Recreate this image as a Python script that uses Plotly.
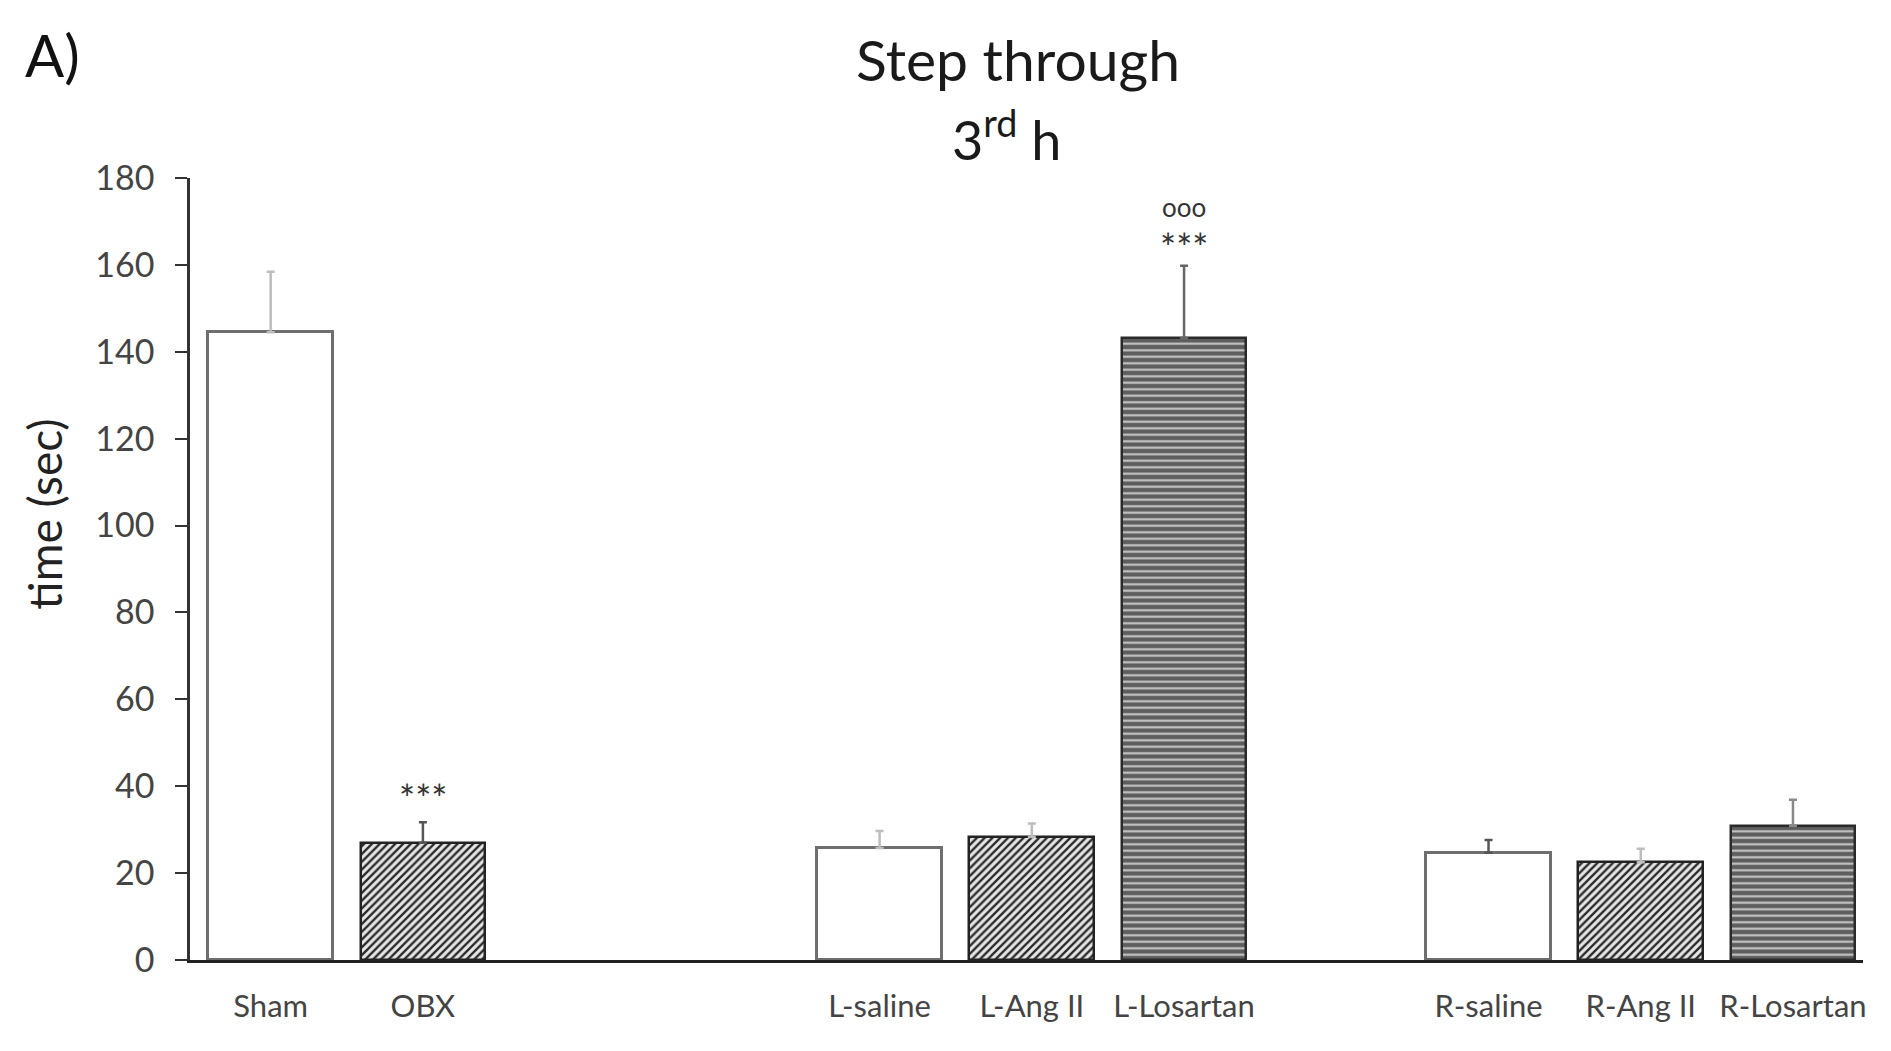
import plotly.graph_objects as go

# ---- data ----
groups = [["Sham", "OBX"],
          ["L-saline", "L-Ang II", "L-Losartan"],
          ["R-saline", "R-Ang II", "R-Losartan"]]
means = [144.5, 27.0, 25.8, 28.3, 143.2, 24.7, 22.5, 30.9]
upper = [158.4, 31.7, 29.7, 31.4, 159.8, 27.6, 25.6, 36.9]
signif_obx = "***"
signif_llos_top = "ooo"
signif_llos = "***"
yticks = [0, 20, 40, 60, 80, 100, 120, 140, 160, 180]

# ---- layout of slots (gaps between groups) ----
gap_after = [2, 1, 0]
labels, xpos = [], []
pos = 0
for g, gap in zip(groups, gap_after):
    for name in g:
        labels.append(name)
        xpos.append(pos)
        pos += 1
    pos += gap

style = {
    "white": dict(color="white", line=dict(color="#6f6f6f", width=3),
                  pattern=dict(shape="")),
    "hatch": dict(color="white", line=dict(color="#222222", width=2.5),
                  pattern=dict(shape="/", fgcolor="#2a2a2a", bgcolor="#e6e6e6",
                               size=5.5, solidity=0.42, fillmode="replace")),
    "hline": dict(color="#6a6a6a", line=dict(color="#2a2a2a", width=2.5),
                  pattern=dict(shape="-", fgcolor="#c9c9c9", bgcolor="#5e5e5e",
                               size=6.5, solidity=0.32, fillmode="replace")),
}
kinds = ["white", "hatch", "white", "hatch", "hline", "white", "hatch", "hline"]
errcol = ["#bdbdbd", "#555555", "#bdbdbd", "#bdbdbd", "#666666", "#555555", "#bdbdbd", "#888888"]

fig = go.Figure()
for i, name in enumerate(labels):
    st = style[kinds[i]]
    fig.add_trace(go.Bar(
        x=[xpos[i]], y=[means[i]], width=0.82, name=name,
        marker=dict(color=st["color"], line=st["line"], pattern=st["pattern"]),
        error_y=dict(type="data", symmetric=False,
                     array=[upper[i] - means[i]], arrayminus=[0],
                     color=errcol[i], thickness=2.5, width=4),
        showlegend=False,
    ))

font = "Lato, 'Open Sans', sans-serif"
ann = []
obx_i = labels.index("OBX")
llos_i = labels.index("L-Losartan")
ann.append(dict(x=xpos[obx_i], y=upper[obx_i] + 5.5, text=signif_obx, showarrow=False,
                font=dict(size=38, color="#333333", family=font)))
ann.append(dict(x=xpos[llos_i], y=upper[llos_i] + 4.3, text=signif_llos, showarrow=False,
                font=dict(size=38, color="#333333", family=font)))
ann.append(dict(x=xpos[llos_i], y=upper[llos_i] + 13.6, text=signif_llos_top, showarrow=False,
                font=dict(size=26, color="#333333", family=font)))
ann.append(dict(xref="paper", yref="paper", x=0.495, y=1.152, text="Step through",
                showarrow=False, xanchor="center", yanchor="middle",
                font=dict(size=57, color="#1a1a1a", family=font)))
ann.append(dict(xref="paper", yref="paper", x=0.488, y=1.054, text="3<sup>rd</sup> h",
                showarrow=False, xanchor="center", yanchor="middle",
                font=dict(size=54, color="#1a1a1a", family=font)))
ann.append(dict(xref="paper", yref="paper", x=-0.1, y=1.158, text="A)",
                showarrow=False, xanchor="left", yanchor="middle",
                font=dict(size=58, color="#111111", family=font)))
ann.append(dict(xref="paper", yref="paper", x=-0.087, y=0.57, text="time (sec)",
                showarrow=False, xanchor="center", yanchor="middle", textangle=-90,
                font=dict(size=46, color="#222222", family=font)))

fig.update_layout(
    width=1891, height=1051,
    margin=dict(l=182, r=36, t=170, b=99),
    plot_bgcolor="white", paper_bgcolor="white",
    bargap=0, annotations=ann,
    font=dict(family=font, color="#444444"),
)
fig.update_xaxes(range=[-0.53, 10.46], tickvals=xpos, ticktext=labels,
                 showline=True, linecolor="#222222", linewidth=2.5,
                 ticks="", showgrid=False, zeroline=False, ticklabelstandoff=17,
                 tickfont=dict(size=31, color="#444444", family=font))
fig.update_yaxes(range=[0, 180], tickvals=yticks, showline=True, linecolor="#333333",
                 linewidth=2.5, ticks="outside", ticklen=12, tickwidth=2, tickcolor="#333333",
                 showgrid=False, zeroline=False, ticklabelstandoff=14,
                 tickfont=dict(size=34, color="#444444", family=font))

fig.write_html("out.html")
